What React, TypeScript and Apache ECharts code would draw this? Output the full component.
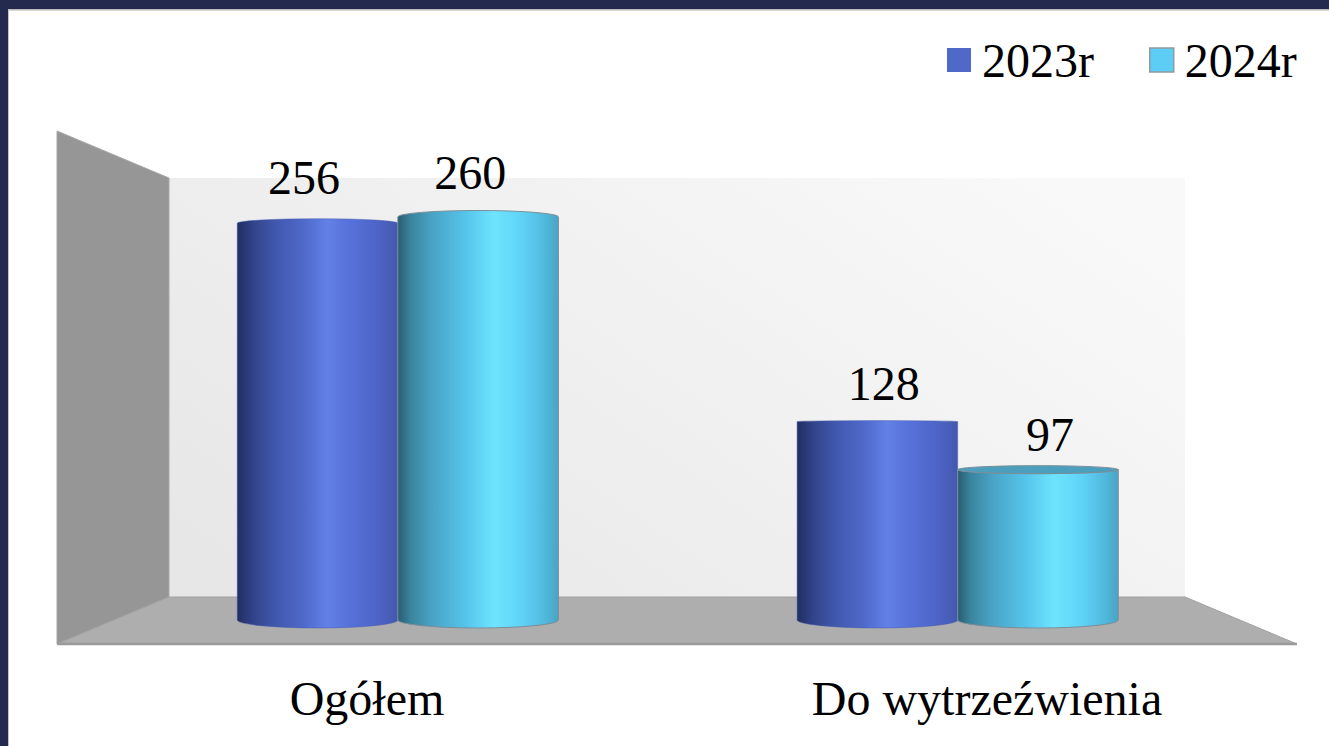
import React, { useEffect, useRef } from "react";
import * as echarts from "echarts";

const categories = ["Ogółem", "Do wytrzeźwienia"];
const seriesNames = ["2023r", "2024r"];
const values2023 = [256, 128];
const values2024 = [260, 97];

const FONT = "'Liberation Serif', serif";
const grad = (stops: [number, string][]) => ({
  type: "linear", x: 0, y: 0, x2: 1, y2: 0,
  colorStops: stops.map(([offset, color]) => ({ offset, color })),
});
const blueGrad = grad([
  [0, "#212e60"], [0.1, "#31448a"], [0.25, "#4259b0"], [0.42, "#4f6acb"],
  [0.56, "#6280e6"], [0.72, "#5570d8"], [0.9, "#4b62c2"], [1, "#4358ae"],
]);
const cyanGrad = grad([
  [0, "#285d70"], [0.08, "#3a849d"], [0.22, "#4aa4c6"], [0.42, "#55c4ea"],
  [0.6, "#6ee4ff"], [0.78, "#5ed2f6"], [0.92, "#50b8dc"], [1, "#4aa4c4"],
]);

const makeRender = (seriesIndex: number) => (params: any, api: any) => {
  const cs = params.coordSys;
  const mid = cs.x + cs.width / 2;
  const cat = api.value(0);
  const val = api.value(1);
  const p = api.coord([cat, val]);
  const base = api.coord([cat, 0]);
  const band = api.size([1, 0])[0];
  const side = seriesIndex === 0 ? -1 : 1;
  const slot = p[0] + side * band * 0.1435;
  const rx = band * 0.1295;
  const cx = mid + 0.75 + (p[0] - mid) * 0.903 + side * rx;
  const labelX = mid + (slot - mid) * 0.935;
  const x0 = cx - rx;
  const x1 = cx + rx;
  const yt = p[1];
  const yb = base[1];
  const ryB = 8;
  const horizon = api.coord([0, 128])[1];
  const above = yt < horizon - 20; // top seen from below
  const below = yt > horizon + 20; // top seen from above
  const ryT = above ? (seriesIndex === 0 ? 4.5 : 6.5) : below ? 4 : 1;
  const topSweep = below ? 0 : 1;
  const body = `M${x0} ${yt}A${rx} ${ryT} 0 0 ${topSweep} ${x1} ${yt}L${x1} ${yb}A${rx} ${ryB} 0 0 1 ${x0} ${yb}Z`;
  const stroke = seriesIndex === 1 ? "#7c8f9a" : "#4a5fae";
  const children: any[] = [
    {
      type: "path",
      shape: { pathData: body },
      style: { fill: seriesIndex === 0 ? blueGrad : cyanGrad, stroke, lineWidth: seriesIndex === 1 ? 1 : 0.5 },
    },
  ];
  if (below) {
    children.push({
      type: "ellipse",
      shape: { cx, cy: yt, rx, ry: ryT },
      style: { fill: "#4b9fbd", stroke, lineWidth: 1 },
    });
  }
  children.push({
    type: "text",
    x: labelX,
    y: yt - (35 + (470 - yt) * 0.037) - (seriesIndex === 0 ? 1.5 : 0),
    style: { text: String(val), font: `48px ${FONT}`, fill: "#000", textAlign: "center", textVerticalAlign: "middle" },
  });
  return { type: "group", children };
};

const backdrop = [
  { type: "rect", z: -10, shape: { x: 0, y: 0, width: 1329, height: 9 }, style: { fill: "#232a4d" } },
  { type: "rect", z: -10, shape: { x: 0, y: 9, width: 1329, height: 1.5 }, style: { fill: "#b9b9b9" } },
  { type: "rect", z: -10, shape: { x: 8, y: 9, width: 1, height: 737 }, style: { fill: "#c4c4c4" } },
  { type: "rect", z: -10, shape: { x: 0, y: 0, width: 8, height: 746 }, style: { fill: "#232a4d" } },
  {
    type: "rect", z: -10, shape: { x: 169, y: 178, width: 1016, height: 419 },
    style: { fill: { type: "linear", x: 0, y: 0.8, x2: 1, y2: 0.2, colorStops: [{ offset: 0, color: "#e7e7e7" }, { offset: 1, color: "#f9f9f9" }] } },
  },
  {
    type: "polygon", z: -9, shape: { points: [[57, 131], [169, 178], [169, 597], [57, 644]] },
    style: { fill: "#969696", stroke: "#a8a8a8", lineWidth: 1 },
  },
  {
    type: "polygon", z: -9, shape: { points: [[57, 644], [169, 597], [1185, 597], [1297, 644]] },
    style: { fill: "#aeaeae", stroke: "#a2a2a2", lineWidth: 1 },
  },
  { type: "line", z: -8, shape: { x1: 57, y1: 644, x2: 1297, y2: 644 }, style: { stroke: "#9a9a9a", lineWidth: 2.5 } },
];

export default function App() {
  const ref = useRef<HTMLDivElement>(null);
  useEffect(() => {
    document.body.style.margin = "0";
    const chart = echarts.init(ref.current!, null, { renderer: "svg" });
    chart.setOption({
      animation: false,
      backgroundColor: "#ffffff",
      graphic: { elements: backdrop },
      grid: { left: 57, right: 32, top: 155, bottom: 126 },
      legend: {
        left: 942,
        top: 31,
        itemWidth: 24,
        itemHeight: 24,
        itemGap: 55,
        icon: "rect",
        textStyle: { fontFamily: FONT, fontSize: 48, color: "#000", padding: [0, 0, 2, 6] },
        data: [
          { name: seriesNames[0], itemStyle: { color: "#5068c8" } },
          { name: seriesNames[1], itemStyle: { color: "#5ccdf5", borderColor: "#8f9aa0", borderWidth: 1.5 } },
        ],
      },
      xAxis: {
        type: "category",
        data: categories,
        axisLine: { show: false },
        axisTick: { show: false },
        axisLabel: { fontFamily: FONT, fontSize: 48, color: "#000", margin: 54 },
      },
      yAxis: { type: "value", min: 0, max: 300, show: false },
      series: [
        {
          type: "custom", name: seriesNames[0], clip: false, color: "#5068c8",
          renderItem: makeRender(0),
          data: values2023.map((v, i) => [i, v]),
        },
        {
          type: "custom", name: seriesNames[1], clip: false, color: "#5ccdf5",
          renderItem: makeRender(1),
          data: values2024.map((v, i) => [i, v]),
        },
      ],
    });
    return () => chart.dispose();
  }, []);
  return <div ref={ref} style={{ width: 1329, height: 746 }} />;
}
